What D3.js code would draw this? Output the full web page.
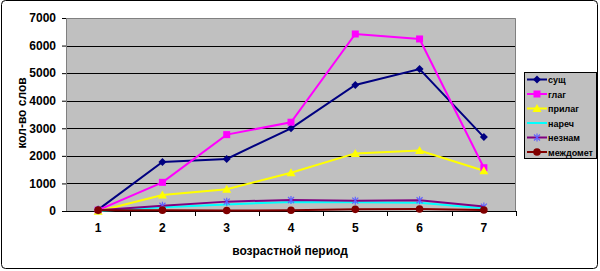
<!DOCTYPE html>
<html><head><meta charset="utf-8">
<script src="https://cdn.jsdelivr.net/npm/d3@7"></script>
<style>body{margin:0;background:#fff}svg{display:block}text{font-family:Arial,"Liberation Sans",sans-serif;font-weight:bold}</style>
</head><body><svg id="c" width="600" height="271"></svg>
<script>
const categories = ["1","2","3","4","5","6","7"];
const sush    = [50, 1780, 1890, 3000, 4570, 5150, 2680];
const glag    = [30, 1040, 2770, 3220, 6420, 6240, 1570];
const prilag  = [-10, 580, 790, 1390, 2090, 2190, 1460];
const narech  = [0, 140, 240, 330, 315, 300, 100];
const neznam  = [30, 190, 340, 400, 375, 390, 160];
const mezhdom = [30, 30, 20, 25, 60, 70, 35];
const yTicks  = [0,1000,2000,3000,4000,5000,6000,7000];
const seriesNames = ["сущ","глаг","прилаг","нареч","незнам","междомет"];
const seriesValues = [sush, glag, prilag, narech, neznam, mezhdom];
const colors = ["#000080","#ff00ff","#ffff00","#00ffff","#800080","#800000"];
const markers = ["diamond","square","triangle","none","star","circle"];

const svg = d3.select("#c");
svg.append("rect").attr("x",1.5).attr("y",0.5).attr("width",596).attr("height",268).attr("rx",4)
  .attr("fill","#fff").attr("stroke","#000").attr("stroke-width",1);

const L=66,R=516,T=18,B=211;
const x = d3.scaleBand().domain(categories).range([L,R]);
const y = d3.scaleLinear().domain([0,7000]).range([B,T]);

svg.append("rect").attr("x",L).attr("y",T).attr("width",R-L).attr("height",B-T).attr("fill","#c0c0c0");
svg.append("g").selectAll("line").data(yTicks.filter(d=>d>0&&d<7000)).join("line")
  .attr("x1",L).attr("x2",R).attr("y1",d=>Math.round(y(d))+0.5).attr("y2",d=>Math.round(y(d))+0.5)
  .attr("stroke","#000").attr("stroke-width",1);
svg.append("path").attr("d",`M${L},${T+0.5}H${R-0.5}V${B}`).attr("fill","none").attr("stroke","#808080");

const ya = d3.axisLeft(y).tickValues(yTicks).tickFormat(d3.format("d")).tickSize(4).tickPadding(6);
const gy = svg.append("g").attr("transform",`translate(${L},0)`).call(ya);
gy.select(".domain").attr("stroke","#808080");
gy.selectAll(".tick line").attr("stroke","#000");
gy.selectAll("text").attr("font-size",12).attr("fill","#000").attr("font-family","Arial, 'Liberation Sans', sans-serif");

const xa = d3.axisBottom(x).tickSize(0).tickPadding(12);
const gx = svg.append("g").attr("transform",`translate(0,${B})`).call(xa);
gx.select(".domain").attr("stroke","#000").attr("d",`M${L},0.5H${R}`);
gx.selectAll("text").attr("font-size",12).attr("fill","#000").attr("font-family","Arial, 'Liberation Sans', sans-serif");
gx.append("g").selectAll("line").data(categories).join("line")
  .attr("x1",(d,i)=>Math.round(L+x.step()*(i+1))+0.5).attr("x2",(d,i)=>Math.round(L+x.step()*(i+1))+0.5)
  .attr("y1",0).attr("y2",5).attr("stroke","#000");

svg.append("text").attr("x",290).attr("y",255).attr("text-anchor","middle").attr("font-size",12).text("возрастной период");
svg.append("text").attr("transform","translate(26,113) rotate(-90)").attr("text-anchor","middle").attr("font-size",12).text("кол-во слов");

function drawMarker(g,type,color,cx,cy){
  if(type==="diamond") g.append("path").attr("d",`M${cx},${cy-4}L${cx+4},${cy}L${cx},${cy+4}L${cx-4},${cy}Z`).attr("fill",color);
  else if(type==="square") g.append("rect").attr("x",cx-3.5).attr("y",cy-3.5).attr("width",7).attr("height",7).attr("fill",color);
  else if(type==="triangle") g.append("path").attr("d",`M${cx},${cy-4.5}L${cx+4.5},${cy+3.5}L${cx-4.5},${cy+3.5}Z`).attr("fill",color);
  else if(type==="circle") g.append("circle").attr("cx",cx).attr("cy",cy).attr("r",3.8).attr("fill",color);
  else if(type==="star"){
    g.append("path").attr("d",`M${cx-3},${cy-3}L${cx+3},${cy+3}M${cx-3},${cy+3}L${cx+3},${cy-3}M${cx},${cy-4}V${cy+4}`).attr("stroke","#6060ff").attr("stroke-width",1.2);
  }
}

const line = d3.line().x((d,i)=>x(categories[i])+x.bandwidth()/2).y(d=>y(d));
const plot = svg.append("g");
seriesValues.forEach((vals,si)=>{
  plot.append("path").datum(vals).attr("d",line).attr("fill","none").attr("stroke",colors[si]).attr("stroke-width",2);
});
seriesValues.forEach((vals,si)=>{
  const g = plot.append("g");
  vals.forEach((v,i)=>drawMarker(g,markers[si],colors[si],x(categories[i])+x.bandwidth()/2,y(v)));
});

const lg = svg.append("g");
lg.append("rect").attr("x",524.5).attr("y",72.5).attr("width",72).attr("height",86).attr("fill","#c0c0c0").attr("stroke","#000");
seriesNames.forEach((n,i)=>{
  const ly = 79.5 + i*14.5;
  lg.append("line").attr("x1",527).attr("x2",547).attr("y1",ly).attr("y2",ly).attr("stroke",colors[i]).attr("stroke-width",2);
  drawMarker(lg,markers[i],colors[i],537,ly);
  lg.append("text").attr("x",548).attr("y",ly+3.5).attr("font-size",9).attr("textLength",n.length>6?45:null).text(n);
});
</script></body></html>
